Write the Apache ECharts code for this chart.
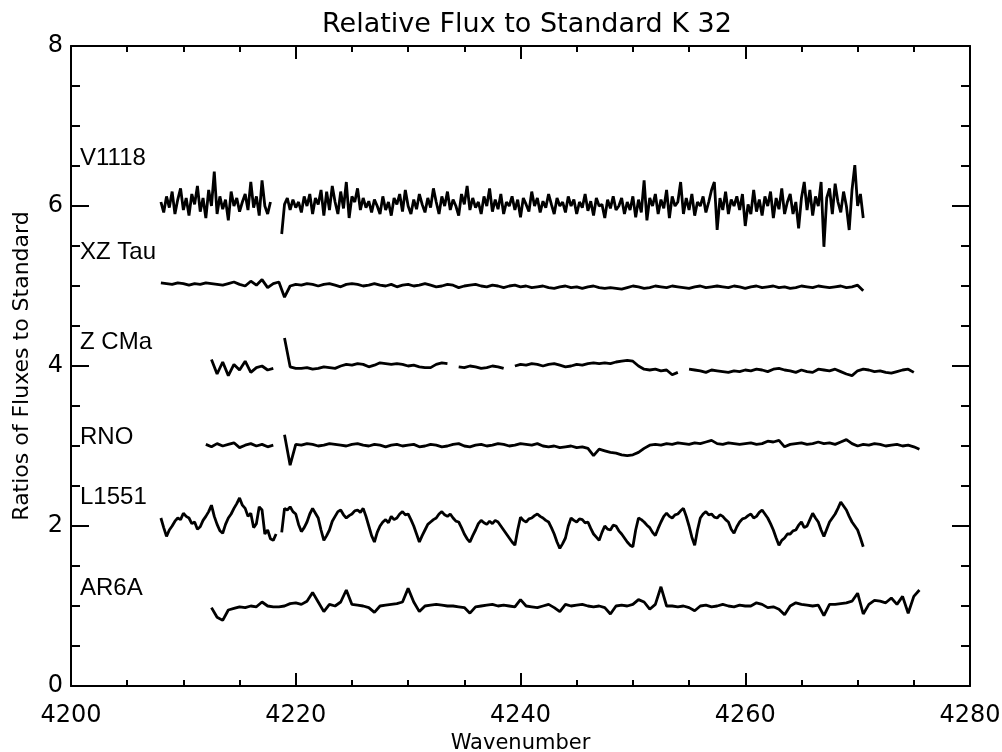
<!DOCTYPE html>
<html><head><meta charset="utf-8">
<script src="https://cdn.jsdelivr.net/npm/echarts@6/dist/echarts.min.js"></script>
<style>html,body{margin:0;padding:0;background:#fff}#c{width:1002px;height:752px}</style>
</head><body><div id="c"></div>
<script>
// ---- data ----
const seriesNames = ['V1118', 'XZ Tau', 'Z CMa', 'RNO', 'L1551', 'AR6A'];
const xTickValues = [4200, 4220, 4240, 4260, 4280];
const yTickValues = [0, 2, 4, 6, 8];

// V1118: wavenumber grid from 4208.0, spacing 0.25
const v1118Start = 4208.0, v1118Step = 0.25;
const v1118 = [
 6.05,5.92,6.12,5.98,6.18,5.90,6.08,6.22,5.95,6.10,5.88,6.15,6.02,6.25,5.93,6.10,5.85,6.20,6.00,6.43,
 5.90,6.12,5.96,6.08,5.82,6.18,6.00,6.10,5.93,6.05,6.15,5.95,6.30,5.98,6.12,5.88,6.32,6.00,5.90,6.05,
 null,null,null,5.65,
 6.02,6.10,5.95,6.08,5.98,6.05,5.92,6.12,6.00,6.15,5.90,6.10,6.02,6.20,5.88,6.18,5.95,6.25,6.05,5.90,
 6.18,5.97,6.30,5.85,6.12,6.05,6.22,5.95,6.10,5.98,6.06,5.92,6.08,6.00,5.90,6.12,5.95,6.05,5.88,6.10,
 6.02,6.15,5.93,6.20,6.00,5.90,6.08,5.96,6.15,6.02,5.92,6.10,5.98,6.22,6.05,5.90,6.12,6.00,6.18,5.95,
 6.08,6.00,5.88,6.15,6.02,6.25,5.95,6.10,5.98,6.05,5.90,6.12,6.00,6.22,5.93,6.08,5.96,6.15,5.90,6.05,
 6.00,6.12,5.95,6.08,5.86,6.10,6.02,5.93,6.18,6.00,6.10,5.92,6.06,5.98,6.15,6.02,5.90,6.10,6.00,6.05,
 5.92,6.12,6.00,6.08,5.90,6.05,5.98,6.15,5.94,6.06,5.88,6.10,6.00,6.02,5.85,6.08,5.97,6.12,5.95,6.00,
 6.10,5.90,6.05,5.95,6.12,5.86,6.08,5.92,6.32,5.82,6.10,6.00,6.15,5.90,6.08,5.97,6.20,5.85,6.12,6.00,
 6.05,6.30,5.90,6.10,5.95,6.15,5.88,6.05,6.00,6.12,5.92,6.05,6.20,6.30,5.70,6.10,5.95,6.18,5.90,6.08,
 6.00,6.12,5.95,6.15,5.75,6.02,5.90,6.20,5.93,6.08,5.88,6.12,6.00,6.18,5.85,6.10,5.96,6.22,5.90,6.05,
 6.15,5.90,6.05,5.72,6.10,6.30,5.95,6.20,5.88,6.12,6.00,6.30,5.49,6.10,6.22,5.90,6.28,6.05,5.92,6.18,
 6.00,5.70,6.20,6.51,6.00,6.15,5.85
];

// XZ Tau: grid from 4208.0, spacing 0.5
const xzTauStart = 4208.0, xzTauStep = 0.5;
const xzTau = [
 5.04,5.03,5.02,5.04,5.03,5.01,5.03,5.02,5.04,5.03,5.02,5.01,5.03,5.05,5.02,5.00,5.06,5.01,5.08,4.98,
 5.03,5.05,4.86,5.00,5.02,5.01,5.03,5.02,5.00,5.02,5.03,5.01,4.99,5.02,5.03,5.02,5.00,5.01,5.03,5.01,
 5.00,5.02,4.99,5.01,5.02,5.00,5.01,5.03,5.01,4.99,5.00,5.02,5.01,4.98,5.00,5.01,5.02,5.00,4.99,5.01,
 5.00,4.98,5.00,5.01,4.99,5.00,4.98,4.99,5.00,4.98,4.97,4.99,5.00,4.98,4.99,4.97,4.99,5.00,4.98,4.97,
 4.98,4.97,4.96,4.98,5.00,4.99,4.97,4.98,5.00,4.99,4.98,5.00,4.99,4.98,4.97,4.99,5.00,4.98,4.99,5.00,
 4.99,4.98,5.00,4.99,4.97,4.99,5.00,4.98,4.99,5.00,4.98,4.99,4.97,4.98,5.00,4.99,4.98,5.00,4.99,4.98,
 4.99,5.00,4.98,4.99,5.01,4.94
];

// Z CMa: grid from 4212.5, spacing 0.5
const zCMaStart = 4212.5, zCMaStep = 0.5;
const zCMa = [
 4.08,3.90,4.05,3.88,4.02,3.95,4.06,3.92,3.98,4.00,3.95,3.97,
 null,4.35,
 3.99,3.97,3.97,3.98,3.96,3.97,3.99,3.98,3.97,4.00,4.02,4.01,4.03,4.02,3.99,4.01,4.04,4.03,4.02,4.03,
 4.02,4.00,4.01,3.99,3.98,3.98,4.02,4.04,4.03,null,3.99,3.98,4.00,3.99,3.97,3.98,4.00,3.99,3.97,null,
 4.00,4.02,4.01,4.03,4.02,4.00,4.02,4.03,4.01,3.99,4.00,4.02,4.01,4.03,4.04,4.03,4.04,4.03,4.05,4.06,
 4.07,4.06,4.00,3.96,3.95,3.96,3.94,3.95,3.89,3.92,null,3.96,3.95,3.94,3.92,3.95,3.94,3.93,3.92,3.94,
 3.93,3.95,3.94,3.96,3.95,3.93,3.96,3.97,3.95,3.94,3.92,3.95,3.93,3.92,3.96,3.95,3.94,3.96,3.93,3.90,
 3.88,3.94,3.96,3.95,3.93,3.94,3.92,3.91,3.93,3.95,3.96,3.92
];

// RNO: grid from 4212.0, spacing 0.5
const rnoStart = 4212.0, rnoStep = 0.5;
const rno = [
 3.02,2.99,3.03,3.00,3.02,3.04,2.98,3.01,3.03,3.00,3.02,2.99,3.01,
 null,3.14,2.76,
 3.02,3.01,3.03,3.02,3.00,3.01,3.03,3.02,3.01,3.00,3.02,3.03,3.01,3.00,3.02,3.01,2.99,3.01,3.02,3.00,
 3.01,3.02,2.99,3.00,3.02,3.01,2.99,3.00,3.02,3.03,3.00,2.99,3.01,3.02,3.00,3.01,3.03,3.02,3.00,3.01,
 3.03,3.02,3.01,3.03,3.00,2.99,3.00,2.98,2.99,3.00,2.98,2.99,2.97,2.88,2.96,2.94,2.92,2.91,2.89,2.88,
 2.89,2.92,2.97,3.01,3.02,3.01,3.03,3.02,3.04,3.03,3.02,3.04,3.03,3.05,3.07,3.03,3.02,3.04,3.03,3.02,
 3.03,3.04,3.02,3.03,3.06,3.05,3.07,2.99,3.02,3.03,3.04,3.02,3.03,3.05,3.03,3.04,3.02,3.05,3.08,3.03,
 3.00,3.02,3.01,3.03,3.02,3.00,3.01,3.02,3.00,3.01,2.99,2.96
];

// L1551: grid from 4208.0, spacing 0.25
const l1551Start = 4208.0, l1551Step = 0.25;
const l1551 = [
 2.10,1.98,1.87,1.95,2.00,2.06,2.10,2.08,2.16,2.12,2.10,2.03,2.05,1.96,1.99,2.07,2.12,2.18,2.26,2.12,
 2.02,1.94,1.91,2.02,2.10,2.15,2.22,2.28,2.35,2.26,2.22,2.12,2.16,1.98,2.03,2.24,2.20,1.90,1.95,1.84,
 1.82,1.90,null,1.92,2.22,2.20,2.24,2.18,2.15,2.02,1.93,1.98,2.05,2.15,2.22,2.16,2.10,1.95,1.82,1.88,
 1.95,2.06,2.12,2.18,2.20,2.14,2.10,2.13,2.15,2.19,2.20,2.17,2.22,2.12,2.00,1.88,1.80,1.92,2.00,2.05,
 2.08,2.04,2.12,2.08,2.10,2.15,2.18,2.14,2.15,2.08,2.00,1.90,1.80,1.88,1.95,2.02,2.05,2.08,2.10,2.15,
 2.18,2.14,2.12,2.15,2.10,2.06,2.05,1.98,1.90,1.84,1.80,1.88,1.95,2.03,2.07,2.04,2.02,2.06,2.03,2.07,
 2.05,2.00,1.95,1.90,1.85,1.80,1.76,1.95,2.11,2.07,2.05,2.09,2.10,2.13,2.15,2.12,2.10,2.07,2.05,1.98,
 1.90,1.80,1.72,1.78,1.85,2.00,2.10,2.07,2.05,2.09,2.08,2.04,2.05,1.97,1.90,1.86,1.82,1.92,2.00,1.96,
 1.95,2.01,2.00,1.94,1.90,1.85,1.80,1.76,1.74,1.95,2.10,2.08,2.05,2.01,1.98,1.92,1.88,1.97,2.05,2.12,
 2.16,2.12,2.10,2.14,2.15,2.19,2.22,2.12,2.00,1.86,1.76,1.95,2.10,2.15,2.18,2.14,2.15,2.11,2.10,2.14,
 2.12,2.08,2.05,1.96,1.91,1.99,2.05,2.09,2.10,2.13,2.15,2.10,2.12,2.17,2.20,2.15,2.10,2.03,1.95,1.85,
 1.76,1.82,1.85,1.90,1.90,1.94,1.95,2.01,2.05,1.98,2.00,2.08,2.16,2.10,2.05,1.95,1.87,1.96,2.05,2.10,
 2.15,2.22,2.30,2.25,2.20,2.12,2.05,2.00,1.95,1.85,1.74
];

// AR6A: grid from 4212.5, spacing 0.5
const ar6aStart = 4212.5, ar6aStep = 0.5;
const ar6a = [
 0.98,0.86,0.82,0.95,0.97,0.99,0.98,1.00,0.99,1.05,
 1.00,0.99,0.99,1.00,1.03,1.04,1.02,1.06,1.17,1.05,
 0.93,1.02,1.00,1.05,1.20,1.02,1.01,1.00,0.98,0.92,
 1.00,1.01,1.02,1.03,1.05,1.22,1.05,0.93,1.00,1.01,
 1.02,1.01,1.00,1.00,0.99,0.98,0.91,0.99,1.00,1.01,
 1.02,1.00,1.01,1.00,0.99,1.08,1.00,0.99,0.98,1.00,
 1.02,0.98,0.93,1.02,1.00,1.01,1.02,1.00,0.99,1.00,
 0.98,0.90,1.00,1.01,1.00,1.02,1.08,1.05,0.96,1.02,
 1.24,1.00,1.00,0.99,1.00,0.98,0.94,1.00,1.01,0.99,
 1.00,1.02,1.00,0.99,1.01,1.00,1.00,1.04,1.02,0.98,
 0.99,0.96,0.89,1.00,1.04,1.02,1.01,1.00,1.01,0.88,
 1.02,1.02,1.03,1.04,1.06,1.16,0.90,1.02,1.07,1.06,
 1.04,1.10,1.02,1.12,0.91,1.12,1.20
];

// ---- chart ----
function toPairs(start, step, vals) {
  return vals.map((v, i) => [start + i * step, v === null ? '-' : v]);
}
const spectra = [
  toPairs(v1118Start, v1118Step, v1118),
  toPairs(xzTauStart, xzTauStep, xzTau),
  toPairs(zCMaStart, zCMaStep, zCMa),
  toPairs(rnoStart, rnoStep, rno),
  toPairs(l1551Start, l1551Step, l1551),
  toPairs(ar6aStart, ar6aStep, ar6a)
];
// label anchors (data coords) for each spectrum name
const labelAnchorX = 4200.8;
const labelAnchorY = [6.6, 5.42, 4.29, 3.11, 2.36, 1.22];

const hersheyLike = "'DejaVu Sans', sans-serif";
const black = '#000';
const xMin = xTickValues[0], xMax = xTickValues[xTickValues.length - 1];
const yMin = yTickValues[0], yMax = yTickValues[yTickValues.length - 1];

function xAxisCfg(pos, showLabel) {
  return {
    type: 'value', min: xMin, max: xMax, interval: xTickValues[1] - xTickValues[0], position: pos,
    axisLine: { show: true, onZero: false, lineStyle: { color: black, width: 2 } },
    axisTick: { show: true, inside: true, length: 13, lineStyle: { color: black, width: 2 } },
    minorTick: { show: true, splitNumber: 4, length: 6, lineStyle: { color: black, width: 2 } },
    splitLine: { show: false }, minorSplitLine: { show: false },
    axisLabel: { show: showLabel, color: black, fontSize: 24, margin: 18, fontFamily: hersheyLike,
                 formatter: v => String(v) },
    name: showLabel ? 'Wavenumber' : '', nameLocation: 'middle', nameGap: 44,
    nameTextStyle: { color: black, fontSize: 21, fontFamily: hersheyLike }
  };
}
function yAxisCfg(pos, showLabel) {
  return {
    type: 'value', min: yMin, max: yMax, interval: yTickValues[1] - yTickValues[0], position: pos,
    axisLine: { show: true, onZero: false, lineStyle: { color: black, width: 2 } },
    axisTick: { show: true, inside: true, length: 18, lineStyle: { color: black, width: 2 } },
    minorTick: { show: true, splitNumber: 4, length: 9, lineStyle: { color: black, width: 2 } },
    splitLine: { show: false }, minorSplitLine: { show: false },
    axisLabel: { show: showLabel, color: black, fontSize: 24, margin: 8, fontFamily: hersheyLike,
                 formatter: v => String(v) },
    name: showLabel ? 'Ratios of Fluxes to Standard' : '', nameLocation: 'middle', nameGap: 38,
    nameTextStyle: { color: black, fontSize: 22, fontFamily: hersheyLike }
  };
}

const series = spectra.map((d, i) => ({
  type: 'line', name: seriesNames[i], data: d, xAxisIndex: 0, yAxisIndex: 0,
  showSymbol: false, symbol: 'none', connectNulls: false, silent: true,
  lineStyle: { color: black, width: 2.8 }
}));

const chart = echarts.init(document.getElementById('c'), null, { renderer: 'canvas' });
chart.setOption({
  animation: false,
  backgroundColor: '#fff',
  title: { text: 'Relative Flux to Standard K 32', left: 522, top: 6, textAlign: 'center',
           textStyle: { color: black, fontSize: 27, fontWeight: 'normal', fontFamily: hersheyLike } },
  grid: { left: 71, right: 32, top: 46, bottom: 66, containLabel: false, outerBoundsMode: 'none' },
  xAxis: [xAxisCfg('bottom', true), xAxisCfg('top', false)],
  yAxis: [yAxisCfg('left', true), yAxisCfg('right', false)],
  series: series
});
// spectrum name labels, placed through the chart's own coordinate system
chart.setOption({
  graphic: seriesNames.map((n, i) => {
    const p = chart.convertToPixel({ xAxisIndex: 0, yAxisIndex: 0 }, [labelAnchorX, labelAnchorY[i]]);
    return {
      type: 'text', x: p[0], y: p[1], silent: true,
      style: { text: n, fill: black, fontSize: 24, fontFamily: "'Liberation Sans', Arial, sans-serif",
               verticalAlign: 'middle', align: 'left' }
    };
  })
});
</script>
</body></html>
